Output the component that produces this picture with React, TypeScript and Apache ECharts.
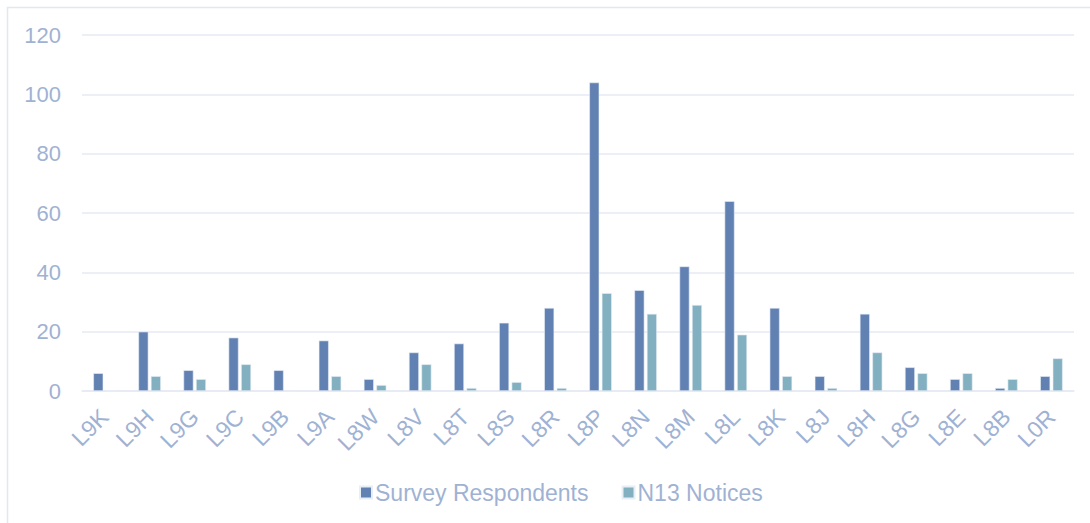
import React, { useEffect, useRef } from "react";
import * as echarts from "echarts";

const categories = ["L9K","L9H","L9G","L9C","L9B","L9A","L8W","L8V","L8T","L8S","L8R","L8P","L8N","L8M","L8L","L8K","L8J","L8H","L8G","L8E","L8B","L0R"];
const surveyRespondents = [6,20,7,18,7,17,4,13,16,23,28,104,34,42,64,28,5,26,8,4,1,5];
const n13Notices = [0,5,4,9,0,5,2,9,1,3,1,33,26,29,19,5,1,13,6,6,4,11];
const yTicks = { min: 0, max: 120, interval: 20 };

const labelColor = "#9fb2d3";
const font = "'Liberation Sans', Arial, sans-serif";

export default function App() {
  const ref = useRef<HTMLDivElement>(null);
  useEffect(() => {
    const chart = echarts.init(ref.current!, null, { renderer: "svg" });
    chart.setOption({
      animation: false,
      backgroundColor: "#ffffff",
      textStyle: { fontFamily: font },
      graphic: [
        {
          type: "rect",
          shape: { x: 7.5, y: 7.5, width: 1200, height: 600 },
          style: { fill: "none", stroke: "#e3e7f0", lineWidth: 1.5 },
          silent: true,
        },
      ],
      grid: { left: 82, right: 16, top: 35, bottom: 132, containLabel: false },
      legend: {
        top: 481,
        left: 359,
        padding: 0,
        itemWidth: 12,
        itemHeight: 12,
        itemGap: 33,
        icon: "rect",
        textStyle: { color: labelColor, fontSize: 23, fontFamily: font, padding: [0, 0, 0, -2] },
        data: ["Survey Respondents", "N13 Notices"],
      },
      xAxis: {
        type: "category",
        data: categories,
        axisTick: { show: false },
        axisLine: { show: true, lineStyle: { color: "#e6eaf2", width: 1.5 } },
        axisLabel: {
          rotate: 45,
          interval: 0,
          color: labelColor,
          fontSize: 23,
          fontFamily: font,
          margin: 22,
          padding: [0, 0, 0, 0],
        },
      },
      yAxis: {
        type: "value",
        min: yTicks.min,
        max: yTicks.max,
        interval: yTicks.interval,
        axisLine: { show: false },
        axisTick: { show: false },
        splitLine: { lineStyle: { color: "#e6eaf2", width: 1.5 } },
        axisLabel: { color: labelColor, fontSize: 22, fontFamily: font, margin: 21 },
      },
      series: [
        {
          name: "Survey Respondents",
          type: "bar",
          data: surveyRespondents,
          barWidth: 10,
          barGap: "25%",
          itemStyle: { color: "#6281b3", borderColor: "#e8eef6", borderWidth: 0.6 },
        },
        {
          name: "N13 Notices",
          type: "bar",
          data: n13Notices,
          barWidth: 10,
          itemStyle: { color: "#82b0c0", borderColor: "#e8eef6", borderWidth: 0.6 },
        },
      ],
    });
    return () => chart.dispose();
  }, []);
  return (
    <div
      ref={ref}
      style={{ position: "fixed", left: 0, top: 0, width: 1090, height: 523 }}
    />
  );
}
